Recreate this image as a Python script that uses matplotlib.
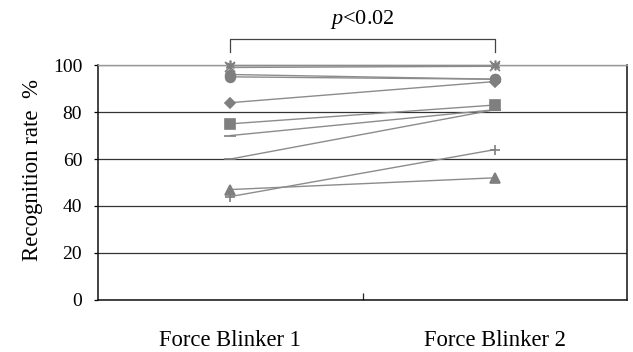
import matplotlib
matplotlib.use("Agg")
import matplotlib.pyplot as plt

categories = ["Force Blinker 1", "Force Blinker 2"]
series_fb1 = [100, 99, 96, 95, 84, 75, 70, 60, 47, 44]
series_fb2 = [100, 99.5, 94, 94, 93, 83, 81, 81, 52, 64]
markers = [(6, 2, 0), "x", "o", "o", "D", "s", "_", "_", "^", "+"]
y_ticks = [0, 20, 40, 60, 80, 100]

plt.rcParams['font.family'] = ['Liberation Serif', 'DejaVu Serif']
plt.rcParams['mathtext.fontset'] = 'custom'
plt.rcParams['mathtext.it'] = 'Liberation Serif:italic'
plt.rcParams['mathtext.rm'] = 'Liberation Serif'

fig = plt.figure(figsize=(6.33, 3.52), dpi=100)
ax = fig.add_axes([0.155, 0.148, 0.8355, 0.667])

xs = list(range(len(categories)))
for a, b, m in zip(series_fb1, series_fb2, markers):
    ms = 7
    if m == "D":
        ms = 5
    if m == "_":
        ms = 9
    if m in ("+", "x"):
        ms = 7
    ax.plot(xs, [a, b], color="#8c8c8c", lw=1.0, marker=m, ms=ms,
            mfc="#7f7f7f", mec="#7f7f7f", mew=1.2, zorder=3, clip_on=False)

ax.set_xlim(-0.5, 1.5)
ax.set_ylim(0, 100)
ax.set_yticks(y_ticks)
ax.yaxis.grid(True, color="#333333", lw=0.9)
ax.set_axisbelow(True)

ax.set_xticks([0.5])
ax.set_xticklabels([""])
ax.tick_params(axis="x", direction="in", length=5, width=0.9, color="#222222")
for x, lab in zip(xs, categories):
    ax.text(x, -0.175, lab, transform=ax.get_xaxis_transform(), ha="center",
            va="center", fontsize=16.3)
ax.tick_params(axis="y", length=3, width=0.9, labelsize=14, pad=8.5)

for s in ["left", "bottom", "right"]:
    ax.spines[s].set_color("#111111")
    ax.spines[s].set_linewidth(1.1)
ax.spines["top"].set_color("#999999")
ax.spines["top"].set_linewidth(1.0)

ax.set_ylabel("Recognition rate  %", fontsize=16.5)
ax.yaxis.set_label_coords(-0.104, 0.553)

# significance bracket
ax.plot([0, 0, 1, 1], [105.5, 111, 111, 105.5], color="#444444", lw=0.9,
        clip_on=False)
ax.text(0.5, 119.5, r"$p$<0.02", ha="center", va="center", fontsize=16)

fig.savefig("out.png", dpi=100)
